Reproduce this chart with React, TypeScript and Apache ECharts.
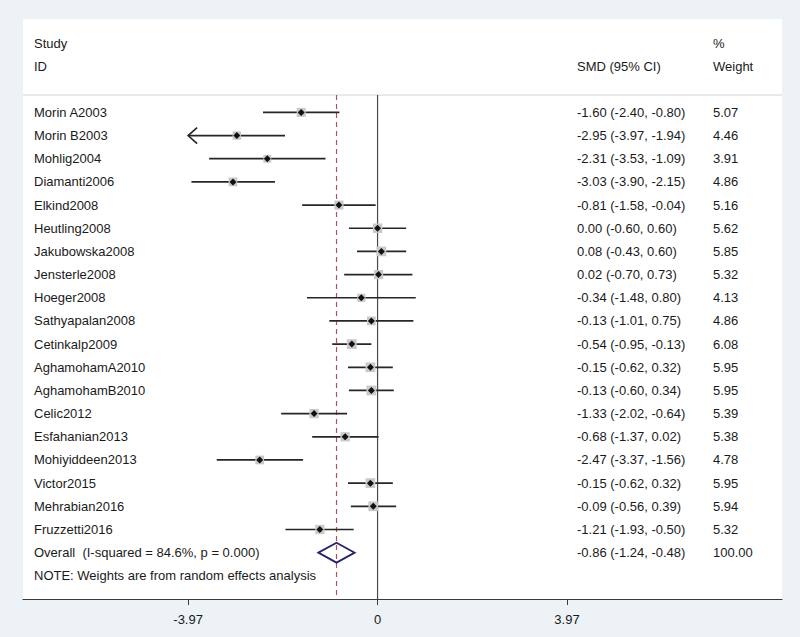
import React, { useEffect, useRef } from "react";
import * as echarts from "echarts";

const studies = [
  "Morin A2003", "Morin B2003", "Mohlig2004", "Diamanti2006", "Elkind2008",
  "Heutling2008", "Jakubowska2008", "Jensterle2008", "Hoeger2008", "Sathyapalan2008",
  "Cetinkalp2009", "AghamohamA2010", "AghamohamB2010", "Celic2012", "Esfahanian2013",
  "Mohiyiddeen2013", "Victor2015", "Mehrabian2016", "Fruzzetti2016",
];
const smd = [-1.60, -2.95, -2.31, -3.03, -0.81, 0.00, 0.08, 0.02, -0.34, -0.13, -0.54, -0.15, -0.13, -1.33, -0.68, -2.47, -0.15, -0.09, -1.21];
const lower = [-2.40, -3.97, -3.53, -3.90, -1.58, -0.60, -0.43, -0.70, -1.48, -1.01, -0.95, -0.62, -0.60, -2.02, -1.37, -3.37, -0.62, -0.56, -1.93];
const upper = [-0.80, -1.94, -1.09, -2.15, -0.04, 0.60, 0.60, 0.73, 0.80, 0.75, -0.13, 0.32, 0.34, -0.64, 0.02, -1.56, 0.32, 0.39, -0.50];
const weights = [5.07, 4.46, 3.91, 4.86, 5.16, 5.62, 5.85, 5.32, 4.13, 4.86, 6.08, 5.95, 5.95, 5.39, 5.38, 4.78, 5.95, 5.94, 5.32];

const overallLabel = "Overall  (I-squared = 84.6%, p = 0.000)";
const overall = { smd: -0.86, lower: -1.24, upper: -0.48, weight: "100.00" };
const noteText = "NOTE: Weights are from random effects analysis";
const tickValues = [-3.97, 0, 3.97];
const clipLimit = -3.97;

const FONT = "13px 'Liberation Sans', Arial, Helvetica, sans-serif";
const TXT = "#1a1a1a";
const NAME_X = 34;
const SMD_X = 577;
const W_X = 713;

const fmt = (v: number) => v.toFixed(2);

export default function App() {
  const ref = useRef<HTMLDivElement>(null);
  useEffect(() => {
    if (!ref.current) return;
    const chart = echarts.init(ref.current, null, { renderer: "svg" });

    const rows = studies.map((n, i) => [i, smd[i], lower[i], upper[i], weights[i]]);

    const option: any = {
      animation: false,
      backgroundColor: "#edf2f6",
      grid: { left: 23, right: 18, top: 95, bottom: 38 },
      xAxis: {
        type: "value",
        min: -7.43,
        max: 8.475,
        axisLine: { show: true, onZero: false, lineStyle: { color: "#3a3a3a", width: 1.2 } },
        axisTick: { show: true, customValues: tickValues, length: 6, lineStyle: { color: "#3a3a3a" } },
        axisLabel: {
          show: true,
          customValues: tickValues,
          formatter: (v: number) => (v === 0 ? "0" : fmt(v)),
          color: TXT,
          fontSize: 13,
          fontFamily: "'Liberation Sans', Arial, sans-serif",
          margin: 14,
        },
        splitLine: { show: false },
      },
      yAxis: {
        type: "value",
        inverse: true,
        min: -0.75,
        max: 21,
        show: false,
      },
      graphic: [
        { type: "rect", z: -1, shape: { x: 23, y: 19, width: 759, height: 580 }, style: { fill: "#ffffff" } },
        { type: "line", z: 1, shape: { x1: 23, y1: 95, x2: 782, y2: 95 }, style: { stroke: "#d4d4d4", lineWidth: 1 } },
        { type: "text", x: NAME_X, y: 43, style: { text: "Study", font: FONT, fill: TXT, textVerticalAlign: "middle" } },
        { type: "text", x: NAME_X, y: 66, style: { text: "ID", font: FONT, fill: TXT, textVerticalAlign: "middle" } },
        { type: "text", x: SMD_X, y: 66, style: { text: "SMD (95% CI)", font: FONT, fill: TXT, textVerticalAlign: "middle" } },
        { type: "text", x: W_X, y: 43, style: { text: "%", font: FONT, fill: TXT, textVerticalAlign: "middle" } },
        { type: "text", x: W_X, y: 66, style: { text: "Weight", font: FONT, fill: TXT, textVerticalAlign: "middle" } },
      ],
      series: [
        {
          type: "line",
          data: [[0, -0.75], [0, 21]],
          symbol: "none",
          lineStyle: { color: "#4a4a4a", width: 1.2 },
          z: 2,
        },
        {
          type: "line",
          data: [[overall.smd, -0.75], [overall.smd, 21]],
          symbol: "none",
          lineStyle: { color: "#b0505c", width: 1.2, type: [5, 4] },
          z: 3,
        },
        {
          type: "custom",
          z: 4,
          clip: false,
          data: rows,
          renderItem: (params: any, api: any) => {
            const i = api.value(0);
            const m = api.value(1);
            const lo = api.value(2);
            const hi = api.value(3);
            const w = api.value(4);
            const [cx, cy] = api.coord([m, i]);
            const clipped = lo <= clipLimit;
            const [lx] = api.coord([clipped ? clipLimit : lo, i]);
            const [hx] = api.coord([hi, i]);
            const side = 4 * Math.sqrt(w);
            const children: any[] = [
              { type: "line", shape: { x1: lx, y1: cy, x2: hx, y2: cy }, style: { stroke: "#262626", lineWidth: 1.7 } },
              { type: "rect", shape: { x: cx - side / 2, y: cy - side / 2, width: side, height: side }, style: { fill: "#c9c9c9" } },
              {
                type: "polygon",
                shape: { points: [[cx - 3.5, cy], [cx, cy - 3.5], [cx + 3.5, cy], [cx, cy + 3.5]] },
                style: { fill: "#111111" },
              },
              { type: "text", x: NAME_X, y: cy, style: { text: studies[i], font: FONT, fill: TXT, textVerticalAlign: "middle" } },
              {
                type: "text",
                x: SMD_X,
                y: cy,
                style: { text: `${fmt(m)} (${fmt(lo)}, ${fmt(hi)})`, font: FONT, fill: TXT, textVerticalAlign: "middle" },
              },
              { type: "text", x: W_X, y: cy, style: { text: fmt(w), font: FONT, fill: TXT, textVerticalAlign: "middle" } },
            ];
            if (clipped) {
              children.push({
                type: "polyline",
                shape: { points: [[lx + 9, cy - 8], [lx, cy], [lx + 9, cy + 8]] },
                style: { stroke: "#262626", lineWidth: 1.6, fill: "none" },
              });
            }
            return { type: "group", children };
          },
        },
        {
          type: "custom",
          z: 5,
          clip: false,
          data: [[19, overall.smd, overall.lower, overall.upper]],
          renderItem: (params: any, api: any) => {
            const i = api.value(0);
            const [cx, cy] = api.coord([api.value(1), i]);
            const [lx] = api.coord([api.value(2), i]);
            const [hx] = api.coord([api.value(3), i]);
            return {
              type: "group",
              children: [
                {
                  type: "polygon",
                  shape: { points: [[lx, cy], [cx, cy - 10], [hx, cy], [cx, cy + 10]] },
                  style: { fill: "none", stroke: "#26266a", lineWidth: 1.8 },
                },
                { type: "text", x: NAME_X, y: cy, style: { text: overallLabel, font: FONT, fill: TXT, textVerticalAlign: "middle" } },
                {
                  type: "text",
                  x: SMD_X,
                  y: cy,
                  style: {
                    text: `${fmt(overall.smd)} (${fmt(overall.lower)}, ${fmt(overall.upper)})`,
                    font: FONT,
                    fill: TXT,
                    textVerticalAlign: "middle",
                  },
                },
                { type: "text", x: W_X, y: cy, style: { text: overall.weight, font: FONT, fill: TXT, textVerticalAlign: "middle" } },
                {
                  type: "text",
                  x: NAME_X,
                  y: api.coord([0, 20])[1],
                  style: { text: noteText, font: FONT, fill: TXT, textVerticalAlign: "middle" },
                },
              ],
            };
          },
        },
      ],
    };

    chart.setOption(option);
    return () => chart.dispose();
  }, []);

  return <div ref={ref} style={{ position: "fixed", left: 0, top: 0, width: 800, height: 637 }} />;
}
